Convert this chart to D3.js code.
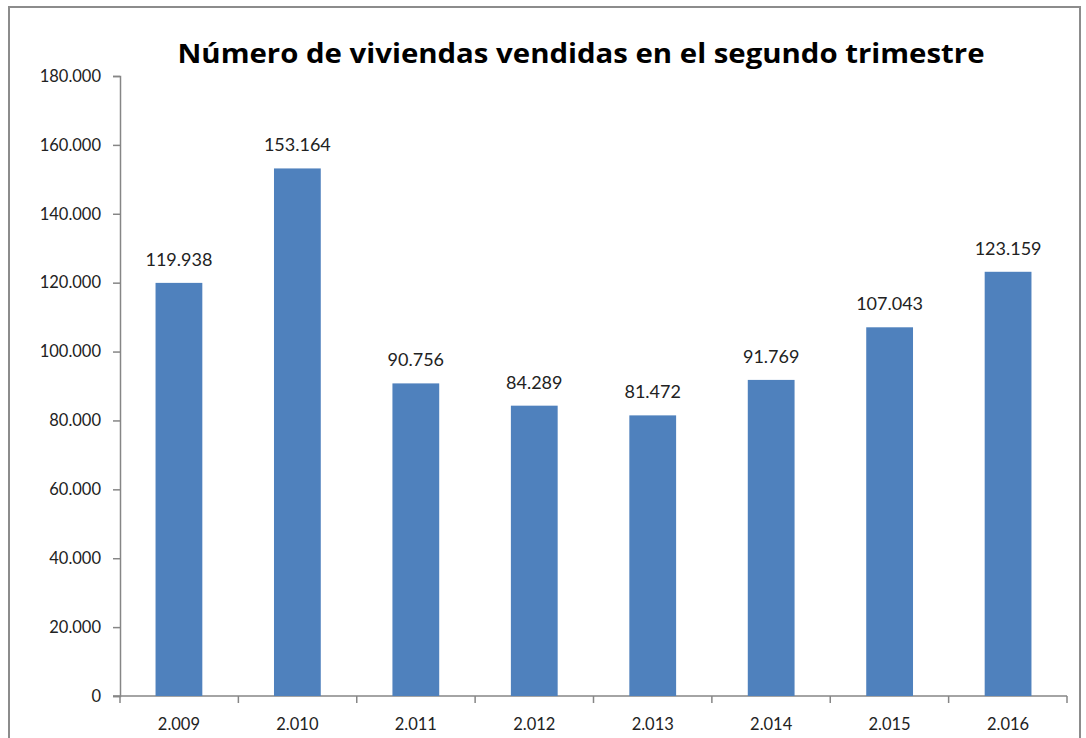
<!DOCTYPE html>
<html>
<head>
<meta charset="utf-8">
<script src="https://cdn.jsdelivr.net/npm/d3@7"></script>
<style>
  body { margin: 0; background: #fff; }
  svg { display: block; }
</style>
</head>
<body>
<div id="chart"></div>
<script>
const years = ["2.009", "2.010", "2.011", "2.012", "2.013", "2.014", "2.015", "2.016"];
const sales = [119938, 153164, 90756, 84289, 81472, 91769, 107043, 123159];
const yTicks = [0, 20000, 40000, 60000, 80000, 100000, 120000, 140000, 160000, 180000];
const title = "Número de viviendas vendidas en el segundo trimestre";

const W = 1086, H = 738;
const margin = { top: 76, right: 19, bottom: 42, left: 120 };
const width = W - margin.left - margin.right;
const height = H - margin.top - margin.bottom;
const font = "Lato, 'Open Sans', sans-serif";

// thousands separator with a dot, as in the original
const fmt = v => d3.format(",")(v).replace(/,/g, ".");

const svg = d3.select("#chart").append("svg")
    .attr("width", W)
    .attr("height", H);

svg.append("rect")
    .attr("x", 9).attr("y", 7)
    .attr("width", 1071).attr("height", 760)
    .attr("fill", "#fff")
    .attr("stroke", "#8c8c8c")
    .attr("stroke-width", 2);

const titleText = svg.append("text")
    .attr("x", 581).attr("y", 63)
    .attr("text-anchor", "middle")
    .attr("font-family", "'Open Sans', sans-serif")
    .attr("font-weight", "bold")
    .attr("font-size", 26)
    .attr("fill", "#000")
    .text(title);

// squeeze or stretch the title to the width it has in the original
const tw = titleText.node().getComputedTextLength();
if (Math.abs(tw - 807) > 10) {
    titleText.attr("textLength", 807).attr("lengthAdjust", "spacingAndGlyphs");
}

const g = svg.append("g")
    .attr("transform", `translate(${margin.left}, ${margin.top})`);

const x = d3.scaleBand().domain(years).range([0, width]).paddingInner(0.605).paddingOuter(0.3);
const y = d3.scaleLinear().domain([0, 180000]).range([height, 0]);

// y axis
const yAxis = g.append("g")
    .call(d3.axisLeft(y).tickValues(yTicks).tickFormat(fmt).tickSize(7).tickPadding(12));
yAxis.select(".domain").attr("stroke", "#868686").attr("stroke-width", 1.5);
yAxis.selectAll(".tick line").attr("stroke", "#868686").attr("stroke-width", 1.5);
yAxis.selectAll("text")
    .attr("font-family", font).attr("font-size", 16.5).attr("fill", "#222");

// x axis: ticks sit between categories
const xAxis = g.append("g").attr("transform", `translate(0, ${height})`);
xAxis.append("line")
    .attr("x1", -7).attr("x2", width)
    .attr("stroke", "#868686").attr("stroke-width", 1.5);
const step = width / years.length;
d3.range(years.length + 1).forEach(i => {
    xAxis.append("line")
        .attr("x1", i * step).attr("x2", i * step)
        .attr("y1", 0).attr("y2", 7)
        .attr("stroke", "#868686").attr("stroke-width", 1.5);
});
xAxis.selectAll(".cat").data(years).enter().append("text")
    .attr("class", "cat")
    .attr("x", d => x(d) + x.bandwidth() / 2)
    .attr("y", 34)
    .attr("text-anchor", "middle")
    .attr("font-family", font).attr("font-size", 16.5).attr("fill", "#222")
    .text(d => d);

// bars
g.selectAll(".bar").data(sales).enter().append("rect")
    .attr("class", "bar")
    .attr("x", (d, i) => x(years[i]))
    .attr("y", d => y(d))
    .attr("width", x.bandwidth())
    .attr("height", d => height - y(d))
    .attr("fill", "#4f81bd");

// value labels
g.selectAll(".val").data(sales).enter().append("text")
    .attr("class", "val")
    .attr("x", (d, i) => x(years[i]) + x.bandwidth() / 2)
    .attr("y", d => y(d) - 17)
    .attr("text-anchor", "middle")
    .attr("font-family", font).attr("font-size", 18).attr("fill", "#222")
    .text(d => fmt(d));
</script>
</body>
</html>
